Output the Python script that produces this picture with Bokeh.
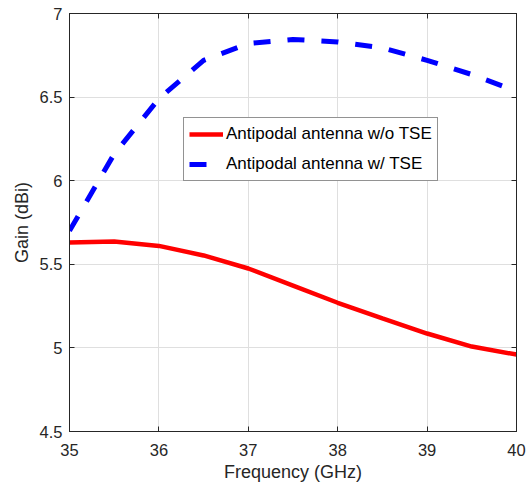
from bokeh.plotting import figure
from bokeh.models import LinearAxis, Range1d, FixedTicker, Legend, LegendItem, CustomJSTickFormatter
from bokeh.embed import file_html
from bokeh.resources import INLINE

freq = [35.0, 35.5, 36.0, 36.5, 37.0, 37.5, 38.0, 38.5, 39.0, 39.5, 40.0]
gain_wo_tse = [5.63, 5.636, 5.61, 5.553, 5.475, 5.373, 5.27, 5.176, 5.086, 5.008, 4.96]
gain_w_tse = [5.70, 6.16, 6.49, 6.72, 6.82, 6.845, 6.83, 6.795, 6.72, 6.635, 6.535]
x_ticks = [35, 36, 37, 38, 39, 40]
y_ticks = [4.5, 5, 5.5, 6, 6.5, 7]
label_wo = "Antipodal antenna w/o TSE"
label_w = "Antipodal antenna w/ TSE"

FONT = "Liberation Sans"
AX = "#262626"

p = figure(width=526, height=489, output_backend="svg", toolbar_location=None,
           x_range=Range1d(35, 40), y_range=Range1d(4.5, 7),
           min_border_left=69, min_border_right=10, min_border_top=13, min_border_bottom=58,
           x_axis_label="Frequency (GHz)", y_axis_label="Gain (dBi)")
p.outline_line_color = AX
p.background_fill_color = "white"
p.border_fill_color = "white"

p.xaxis.ticker = FixedTicker(ticks=x_ticks)
p.yaxis.ticker = FixedTicker(ticks=y_ticks)
for ax in (p.xaxis[0], p.yaxis[0]):
    ax.axis_line_color = AX
    ax.major_tick_line_color = AX
    ax.major_tick_in = 5
    ax.major_tick_out = 0
    ax.minor_tick_line_color = None
    ax.major_label_text_font = FONT
    ax.major_label_text_font_size = "16.5px"
    ax.major_label_text_color = AX
    ax.axis_label_text_font = FONT
    ax.axis_label_text_font_size = "18px"
    ax.axis_label_text_font_style = "normal"
    ax.axis_label_text_color = AX
p.xaxis.major_label_standoff = 12
p.xaxis.axis_label_standoff = 3
p.yaxis.major_label_standoff = 7
p.yaxis.axis_label_standoff = 5

empty = CustomJSTickFormatter(code="return ''")
for loc, tk in (("right", y_ticks), ("above", x_ticks)):
    ax = LinearAxis(ticker=FixedTicker(ticks=tk), formatter=empty)
    ax.axis_line_color = AX
    ax.major_tick_line_color = AX
    ax.major_tick_in = 5
    ax.major_tick_out = 0
    ax.minor_tick_line_color = None
    ax.major_label_text_font_size = "0px"
    ax.major_label_standoff = 0
    p.add_layout(ax, loc)

p.xgrid.ticker = FixedTicker(ticks=x_ticks)
p.ygrid.ticker = FixedTicker(ticks=y_ticks)
p.grid.grid_line_color = "#dfdfdf"
p.grid.grid_line_width = 1

r1 = p.line(freq, gain_wo_tse, line_color="#ff0000", line_width=4.5)
r2 = p.line(freq, gain_w_tse, line_color="#0000ff", line_width=5, line_dash="17 17")

legend = Legend(items=[LegendItem(label=label_wo, renderers=[r1]),
                       LegendItem(label=label_w, renderers=[r2])],
                location=(114, 250))
legend.label_text_font = FONT
legend.label_text_font_size = "17px"
legend.label_text_color = "black"
legend.glyph_width = 34
legend.glyph_height = 22
legend.label_height = 22
legend.label_standoff = 3
legend.padding = 5
legend.spacing = 8
legend.margin = 0
legend.border_line_color = AX
legend.border_line_width = 1
legend.background_fill_color = "white"
legend.background_fill_alpha = 1
p.add_layout(legend, "center")

open("out.html", "w").write(file_html(p, INLINE))
